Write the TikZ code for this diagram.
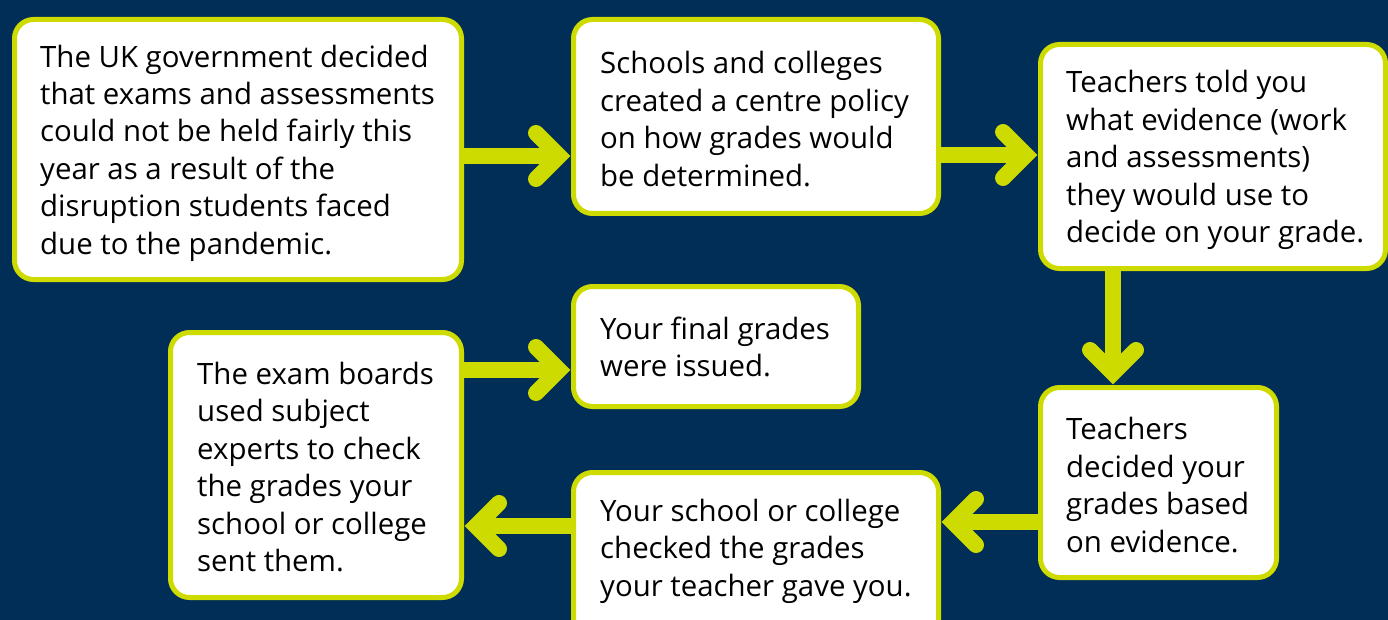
\documentclass[tikz,border=0pt]{standalone}
\usepackage{fontspec}
\setmainfont{Open Sans}
\usetikzlibrary{calc}
\definecolor{navy}{RGB}{0,46,86}
\definecolor{lime}{RGB}{206,219,0}
\begin{document}
\begin{tikzpicture}[x=1pt,y=-1pt,
  box/.style={draw=lime, fill=white, line width=5pt, rounded corners=19pt, inner sep=0pt},
  txt/.style={anchor=west, align=left, inner sep=0pt, font=\fontsize{29.4}{37.4}\selectfont, text=black},
  shaft/.style={draw=lime, line width=16pt},
  chev/.style={draw=lime, line width=16pt, line cap=round, line join=miter}]
\useasboundingbox (0,0) rectangle (1388,620);
\fill[navy] (0,0) rectangle (1388,620);
% boxes (path along the centre of the border)
\node[box, minimum width=447pt, minimum height=260pt] (b1) at (238,149.5) {};
\node[box, minimum width=365pt, minimum height=194pt] (b2) at (756,116.5) {};
\node[box, minimum width=345pt, minimum height=224pt] (b3) at (1213,156.5) {};
\node[box, minimum width=236pt, minimum height=190pt] (b4) at (1158.5,482.5) {};
\node[box, minimum width=365pt, minimum height=168pt] (b5) at (756,556.5) {};
\node[box, minimum width=291pt, minimum height=265pt] (b6) at (316,465) {};
\node[box, minimum width=285pt, minimum height=120pt] (b7) at (716,346.5) {};
% texts
\node[txt] (t1) at (40,153) {The UK government decided\\that exams and assessments\\could not be held fairly this\\year as a result of the\\disruption students faced\\due to the pandemic.};
\node[txt] (t2) at (600,119) {Schools and colleges\\created a centre policy\\on how grades would\\be determined.};
\node[txt] (t3) at (1066,160) {Teachers told you\\what evidence (work\\and assessments)\\they would use to\\decide on your grade.};
\node[txt] (t4) at (1066,485) {Teachers\\decided your\\grades based\\on evidence.};
\node[txt] (t5) at (600,551) {Your school or college\\checked the grades\\your teacher gave you.};
\node[txt] (t6) at (197,467) {The exam boards\\used subject\\experts to check\\the grades your\\school or college\\sent them.};
\node[txt] (t7) at (600,347) {Your final grades\\were issued.};
% arrow levels
\coordinate (ya) at (0,156);
\coordinate (yb) at (0,155);
\coordinate (yc) at (1113,0);
\coordinate (yd) at (0,522);
\coordinate (ye) at (0,526);
\coordinate (yf) at (0,370);
% arrows: b1 -> b2
\coordinate (a1s) at (b1.east |- ya);
\coordinate (a1e) at ($(b2.west |- ya)+(-12,0)$);
\draw[shaft] (a1s) -- (a1e);
\draw[chev] ($(a1e)+(-23,-23)$) -- (a1e) -- ($(a1e)+(-23,23)$);
% b2 -> b3
\coordinate (a2s) at (b2.east |- yb);
\coordinate (a2e) at ($(b3.west |- yb)+(-12,0)$);
\draw[shaft] (a2s) -- (a2e);
\draw[chev] ($(a2e)+(-23,-23)$) -- (a2e) -- ($(a2e)+(-23,23)$);
% b3 -> b4
\coordinate (a3s) at (yc |- b3.south);
\coordinate (a3e) at ($(yc |- b4.north)+(0,-12)$);
\draw[shaft] (a3s) -- (a3e);
\draw[chev] ($(a3e)+(-23,-23)$) -- (a3e) -- ($(a3e)+(23,-23)$);
% b4 -> b5
\coordinate (a4s) at (b4.west |- yd);
\coordinate (a4e) at ($(b5.east |- yd)+(12,0)$);
\draw[shaft] (a4s) -- (a4e);
\draw[chev] ($(a4e)+(23,-23)$) -- (a4e) -- ($(a4e)+(23,23)$);
% b5 -> b6
\coordinate (a5s) at (b5.west |- ye);
\coordinate (a5e) at ($(b6.east |- ye)+(12,0)$);
\draw[shaft] (a5s) -- (a5e);
\draw[chev] ($(a5e)+(23,-23)$) -- (a5e) -- ($(a5e)+(23,23)$);
% b6 -> b7
\coordinate (a6s) at (b6.east |- yf);
\coordinate (a6e) at ($(b7.west |- yf)+(-12,0)$);
\draw[shaft] (a6s) -- (a6e);
\draw[chev] ($(a6e)+(-23,-23)$) -- (a6e) -- ($(a6e)+(-23,23)$);
\end{tikzpicture}
\end{document}
